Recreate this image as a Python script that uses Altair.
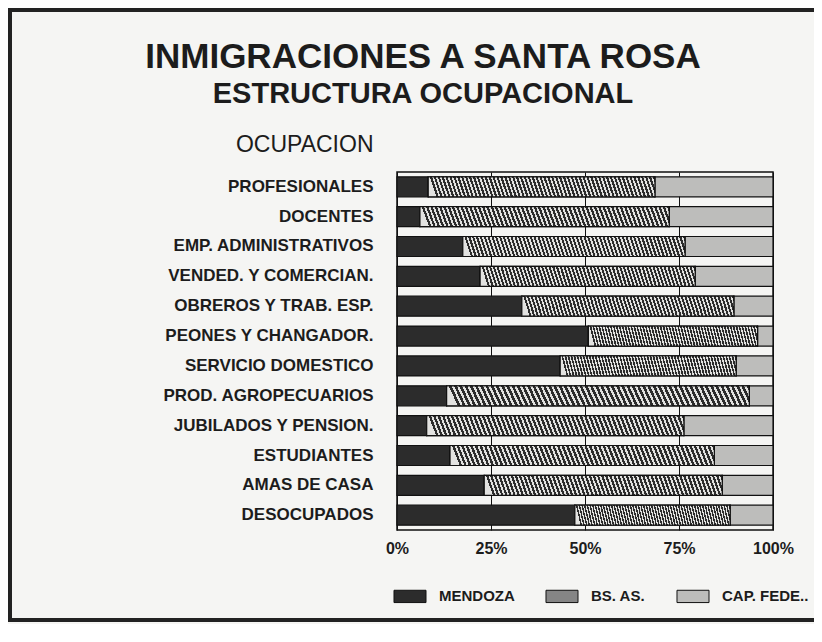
import altair as alt
import pandas as pd

occupations = [
    "PROFESIONALES", "DOCENTES", "EMP. ADMINISTRATIVOS", "VENDED. Y COMERCIAN.",
    "OBREROS Y TRAB. ESP.", "PEONES Y CHANGADOR.", "SERVICIO DOMESTICO",
    "PROD. AGROPECUARIOS", "JUBILADOS Y PENSION.", "ESTUDIANTES", "AMAS DE CASA",
    "DESOCUPADOS",
]
series = ["MENDOZA", "BS. AS.", "CAP. FEDE.."]
mendoza = [8.3, 6.1, 17.5, 22.1, 33.2, 50.9, 43.4, 13.2, 7.9, 14.1, 23.2, 47.3]
bsas = [60.3, 66.3, 59.1, 57.2, 56.4, 45.0, 46.8, 80.5, 68.4, 70.3, 63.3, 41.3]
capfed = [31.4, 27.6, 23.4, 20.7, 10.4, 4.1, 9.8, 6.3, 23.7, 15.6, 13.5, 11.4]
x_ticks = [0, 0.25, 0.5, 0.75, 1.0]

rows = []
for i, occ in enumerate(occupations):
    for k, (name, vals) in enumerate(zip(series, [mendoza, bsas, capfed])):
        rows.append({"occ": occ, "series": name, "value": vals[i], "order": k})
df = pd.DataFrame(rows)

FONT = "Liberation Sans"
INK = "#1c1c1c"

# diagonal hatch emulated with a hard-stop linear gradient
DARK, LIGHT = "#2c2c2c", "#e2e2e0"
stops = []
N = 58
for k in range(N):
    a = k / N
    b = (k + 0.45) / N
    c = (k + 1) / N
    stops += [
        alt.GradientStop(offset=a, color=LIGHT),
        alt.GradientStop(offset=b, color=LIGHT),
        alt.GradientStop(offset=b, color=DARK),
        alt.GradientStop(offset=c, color=DARK),
    ]
hatch_fill = alt.LinearGradient(gradient="linear", stops=stops, x1=0, y1=0.03, x2=1, y2=0)

base = alt.Chart(df).transform_stack(
    stack="value", groupby=["occ"], as_=["v0", "v1"], offset="normalize",
    sort=[alt.SortField("order", order="ascending")],
)

yscale = alt.Scale(paddingInner=0.33, paddingOuter=0.16)
xscale = alt.Scale(domain=[0, 1], nice=False)
yaxis = alt.Axis(
    title="OCUPACION", titleAngle=0, titleAlign="right", titleX=-24, titleY=-21,
    titleBaseline="alphabetic", titleFont=FONT, titleFontSize=23,
    titleFontWeight="normal", titleColor=INK,
    labelFont=FONT, labelFontSize=17, labelFontWeight="bold", labelColor=INK,
    labelPadding=24, labelLimit=400, ticks=False, domain=False,
)
xaxis = alt.Axis(
    title=None, values=x_ticks, format=".0%", labelFont=FONT, labelFontSize=16,
    labelFontWeight="bold", labelColor=INK, labelPadding=10, labelFlush=False,
    ticks=False, domain=False, grid=True, gridColor="#111", gridWidth=1, gridOpacity=1,
)

bars = base.mark_bar(stroke="#111", strokeWidth=1.2).encode(
    y=alt.Y("occ:N", sort=occupations, scale=yscale, axis=yaxis),
    x=alt.X("v0:Q", scale=xscale, axis=xaxis),
    x2="v1:Q",
    color=alt.Color(
        "series:N", sort=series,
        scale=alt.Scale(domain=series, range=["#2c2c2c", "#858585", "#bdbdbb"]),
        legend=alt.Legend(
            title=None, orient="none", direction="horizontal", legendX=0, legendY=411,
            symbolType="M-1.3,-0.5H1.3V0.5H-1.3Z", symbolSize=606,
            symbolStrokeColor="#111", symbolStrokeWidth=1,
            labelFont=FONT, labelFontSize=15, labelFontWeight="bold", labelColor=INK,
            labelOffset=16, columnPadding=28, padding=0,
        ),
    ),
)

hatch = base.transform_filter(alt.datum.series == "BS. AS.").mark_bar(
    fill=hatch_fill, stroke="#111", strokeWidth=1.2
).encode(
    y=alt.Y("occ:N", sort=occupations, scale=yscale, axis=yaxis),
    x=alt.X("v0:Q", scale=xscale, axis=xaxis),
    x2="v1:Q",
)

frame = alt.Chart(alt.Data(values=[{"f": 1}])).mark_rect(
    fillOpacity=0, stroke="#222", strokeWidth=4
).encode(
    x=alt.value(-387), x2=alt.value(460), y=alt.value(-162), y2=alt.value(448)
)

chart = alt.layer(bars, hatch, frame).properties(
    width=376,
    height=358,
    autosize=alt.AutoSizeParams(type="none"),
    padding={"left": 389, "top": 164, "right": 41, "bottom": 94},
    title=alt.Title(
        "INMIGRACIONES A SANTA ROSA",
        subtitle="ESTRUCTURA OCUPACIONAL",
        anchor="middle", dx=-162, offset=-101,
        font=FONT, fontSize=35, fontWeight="bold", color=INK,
        subtitleFont=FONT, subtitleFontSize=29, subtitleFontWeight="bold",
        subtitleColor=INK, subtitlePadding=5,
    ),
).configure(
    background="#f5f5f3",
    view=alt.ViewConfig(stroke="#111", strokeWidth=1.5),
)

chart.save("out.html", embed_options={"renderer": "svg", "actions": False})
